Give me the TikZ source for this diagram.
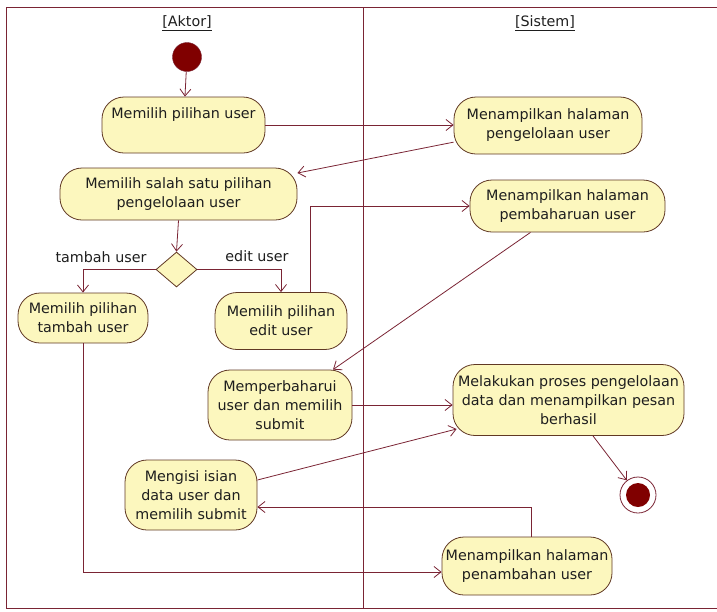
\documentclass[tikz,border=0pt]{standalone}
\usepackage{fontspec}
\setmainfont{DejaVu Sans}
\usetikzlibrary{arrows.meta,shapes.geometric}
\definecolor{flow}{RGB}{122,36,52}
\definecolor{boxline}{RGB}{96,56,36}
\definecolor{boxfill}{RGB}{252,247,190}
\definecolor{dot}{RGB}{128,0,0}
\definecolor{ink}{RGB}{30,30,30}

\begin{document}
\begin{tikzpicture}[x=1pt,y=-1pt,
  font=\fontsize{14.3}{19}\selectfont, text=ink,
  action/.style={draw=boxline, fill=boxfill, rounded corners=22pt,
    line width=0.8pt, align=center, inner sep=0pt},
  flowline/.style={draw=flow, line width=0.8pt,
    -{Straight Barb[length=7pt,width=11pt]}},
  lane/.style={draw=flow, line width=0.9pt},
  guard/.style={text=ink, inner sep=0pt}
]
\useasboundingbox (0,0) rectangle (717,611);

% swimlane frame
\draw[lane] (6,7) rectangle (740,608);
\draw[lane] (363,7) -- (363,608);
\node (hA) at (187,23) {\underline{[Aktor]}};
\node (hS) at (545,23) {\underline{[Sistem]}};

% start and end
\node[circle, fill=dot, draw=flow, minimum size=29pt, inner sep=0pt] (start) at (187,57) {};
\node[circle, draw=flow, fill=white, line width=0.8pt, minimum size=36pt, inner sep=0pt] (end) at (638,495) {};
\node[circle, fill=dot, minimum size=24pt, inner sep=0pt] (endin) at (638,495) {};

% actor actions
\node[action, minimum width=163pt, minimum height=56pt] (a1) at (183.5,125) {Memilih pilihan user\\\strut};
\node[action, minimum width=237pt, minimum height=52pt] (a2) at (178.5,194) {Memilih salah satu pilihan\\pengelolaan user};
\node[diamond, draw=boxline, fill=boxfill, line width=0.8pt, minimum width=41pt, minimum height=35pt, inner sep=0pt] (dec) at (176.5,269.5) {};
\node[action, minimum width=130pt, minimum height=50pt] (a3) at (83,318) {Memilih pilihan\\tambah user};
\node[action, minimum width=132pt, minimum height=57pt] (a4) at (281,321) {Memilih pilihan\\edit user};
\node[action, minimum width=144pt, minimum height=70pt] (a5) at (280,405) {Memperbaharui\\user dan memilih\\submit};
\node[action, minimum width=132pt, minimum height=70pt] (a6) at (191,495) {Mengisi isian\\data user dan\\memilih submit};

% system actions
\node[action, minimum width=188pt, minimum height=57pt] (s1) at (548,125.5) {Menampilkan halaman\\pengelolaan user};
\node[action, minimum width=195pt, minimum height=52pt] (s2) at (567.5,206) {Menampilkan halaman\\pembaharuan user};
\node[action, minimum width=231pt, minimum height=71pt] (s3) at (568.5,400) {Melakukan proses pengelolaan\\data dan menampilkan pesan\\berhasil};
\node[action, minimum width=170pt, minimum height=58pt] (s4) at (527,566) {Menampilkan halaman\\penambahan user};

% control flow
\draw[flowline] (start) -- (a1);
\draw[flowline] (a1.east) -- (a1.east -| s1.west);
\draw[flowline] (s1.190) -- (a2.10);
\draw[flowline] (a2.south) -- (dec.north);
\draw[flowline] (dec.west) -| (a3.north);
\draw[flowline] (dec.east) -| (a4.north);
\node[guard] (g1) at (101,257) {tambah user};
\node[guard] (g2) at (257,256) {edit user};
\draw[flowline] ([xshift=29pt]a4.north) |- (s2.west);
\draw[flowline] ([xshift=-37pt]s2.south) -- ([xshift=53pt]a5.north);
\draw[flowline] (a5.east) -- (a5.east -| s3.west);
\draw[flowline] ([yshift=15pt]a6.east) -- ([xshift=4pt,yshift=-29pt]s3.west);
\draw[flowline] ([xshift=4pt]s4.north) |- ([yshift=-12pt]a6.east);
\draw[flowline] (a3.south) |- ([yshift=-6pt]s4.west);
\draw[flowline] ([xshift=24.5pt]s3.south) -- (end);
\end{tikzpicture}
\end{document}
